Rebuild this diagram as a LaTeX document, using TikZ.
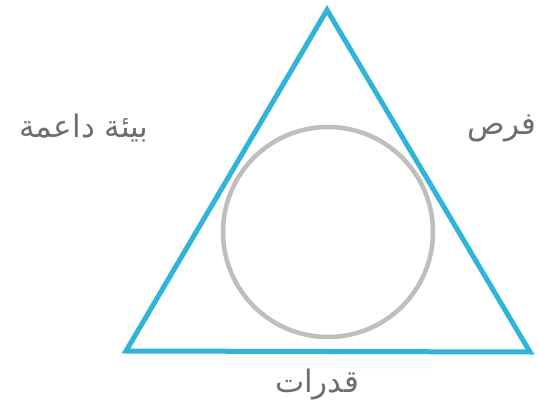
\documentclass[tikz,border=0pt]{standalone}
\usepackage{fontspec}
\newfontfamily\arabicfont[Script=Arabic]{DejaVu Sans}
\TeXXeTstate=1
\usetikzlibrary{positioning}
\definecolor{triblue}{RGB}{48,180,218}
\definecolor{ringgray}{RGB}{190,190,190}
\definecolor{labelgray}{RGB}{110,110,110}

\begin{document}
\begin{tikzpicture}[x=1pt,y=-1pt]
\tikzstyle{edge}=[draw=triblue, line width=5pt, line join=miter]
\tikzstyle{ring}=[circle, draw=ringgray, line width=4.5pt, inner sep=0pt]
\tikzstyle{lbl}=[text=labelgray, font=\arabicfont\fontsize{31}{36}\selectfont, inner sep=0pt]

\useasboundingbox (0,0) rectangle (539,412);

\coordinate (top) at (327,10);
\coordinate (bl) at (126,351);
\coordinate (br) at (530,352);
\draw[edge] (top) -- (bl) -- (br) -- cycle;

\node[ring, minimum size=210pt] (circ) at (328,232) {};

\node[lbl] (env) at (84,128) {\beginR بيئة داعمة\endR};
\node[lbl, anchor=east] (opp) at (537,128) {\beginR فرص\endR};
\node[lbl] (cap) at (317,385) {\beginR قدرات\endR};
\end{tikzpicture}
\end{document}
